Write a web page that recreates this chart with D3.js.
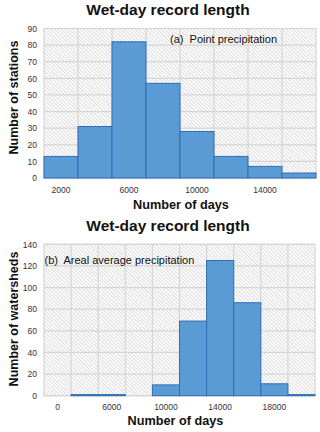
<!DOCTYPE html>
<html>
<head>
<meta charset="utf-8">
<script src="https://cdn.jsdelivr.net/npm/d3@7"></script>
<style>
  body { margin: 0; background: #fff; }
  text { font-family: "Liberation Sans", Arial, sans-serif; }
</style>
</head>
<body>
<script>
// Data
const binsA = ["2000", "4000", "6000", "8000", "10000", "12000", "14000", "16000"];
const countsA = [13, 31, 82, 57, 28, 13, 7, 3];
const xTicksA = ["2000", "6000", "10000", "14000"];
const yTicksA = [0, 10, 20, 30, 40, 50, 60, 70, 80, 90];

const binsB = ["0", "4000", "6000", "8000", "10000", "12000", "14000", "16000", "18000", "20000"];
const countsB = [0, 1, 1, 0, 10, 69, 125, 86, 11, 1];
const xTicksB = ["0", "6000", "10000", "14000", "18000"];
const yTicksB = [0, 20, 40, 60, 80, 100, 120, 140];

const width = 320, height = 432;

const svg = d3.select("body").append("svg")
    .attr("width", width)
    .attr("height", height);

// diagonal hatch used as the plot background
svg.append("defs").append("pattern")
    .attr("id", "hatch")
    .attr("patternUnits", "userSpaceOnUse")
    .attr("width", 2.6)
    .attr("height", 2.6)
    .attr("patternTransform", "rotate(45)")
  .append("line")
    .attr("x1", 0).attr("y1", 0.5)
    .attr("x2", 2.6).attr("y2", 0.5)
    .attr("stroke", "#c4c4c4")
    .attr("stroke-width", 0.6);

function panel(opt) {
  const g = svg.append("g");

  const x = d3.scaleBand()
      .domain(opt.bins)
      .range([opt.left, opt.right])
      .paddingInner(0)
      .paddingOuter(0);

  const y = d3.scaleLinear()
      .domain([0, opt.yMax])
      .range([opt.bottom, opt.top]);

  // background + hatch
  g.append("rect")
      .attr("x", opt.left).attr("y", opt.top)
      .attr("width", opt.right - opt.left)
      .attr("height", opt.bottom - opt.top)
      .attr("fill", "url(#hatch)");

  // gridlines
  g.append("g")
    .selectAll("line.h")
    .data(opt.yTicks)
    .join("line")
      .attr("x1", opt.left).attr("x2", opt.right)
      .attr("y1", d => y(d)).attr("y2", d => y(d))
      .attr("stroke", "#d6d6d6")
      .attr("stroke-width", 1.2);

  g.append("g")
    .selectAll("line.v")
    .data(opt.bins.slice(1))
    .join("line")
      .attr("x1", d => x(d)).attr("x2", d => x(d))
      .attr("y1", opt.top).attr("y2", opt.bottom)
      .attr("stroke", "#d6d6d6")
      .attr("stroke-width", 1.2);

  g.append("rect")
      .attr("x", opt.left).attr("y", opt.top)
      .attr("width", opt.right - opt.left)
      .attr("height", opt.bottom - opt.top)
      .attr("fill", "none")
      .attr("stroke", "#d6d6d6")
      .attr("stroke-width", 1.2);

  // bars
  g.append("g")
    .selectAll("rect")
    .data(opt.bins.map((b, i) => ({ bin: b, value: opt.counts[i] })))
    .join("rect")
      .attr("x", d => x(d.bin))
      .attr("y", d => y(d.value))
      .attr("width", x.bandwidth())
      .attr("height", d => y(0) - y(d.value))
      .attr("fill", "#5b9bd5")
      .attr("stroke", "#2e6db4")
      .attr("stroke-width", 1);

  // x axis
  const xAxis = g.append("g")
      .attr("transform", `translate(0,${opt.bottom})`)
      .call(d3.axisBottom(x).tickValues(opt.xTicks).tickSize(0).tickPadding(opt.xPad));
  xAxis.select(".domain").remove();
  xAxis.selectAll("text")
      .attr("font-size", 8.5)
      .attr("fill", "#333");

  // y axis
  const yAxis = g.append("g")
      .attr("transform", `translate(${opt.left},0)`)
      .call(d3.axisLeft(y).tickValues(opt.yTicks).tickSize(0).tickPadding(7));
  yAxis.select(".domain").remove();
  yAxis.selectAll("text")
      .attr("font-size", 8.5)
      .attr("fill", "#333");

  // titles
  g.append("text")
      .attr("x", 168).attr("y", opt.titleY)
      .attr("text-anchor", "middle")
      .attr("font-size", 15.5)
      .attr("font-weight", "bold")
      .attr("fill", "#111")
      .text("Wet-day record length");

  g.append("text")
      .attr("x", opt.xTitleX).attr("y", opt.xTitleY)
      .attr("text-anchor", "middle")
      .attr("font-size", 12.7)
      .attr("font-weight", "bold")
      .attr("fill", "#111")
      .text("Number of days");

  g.append("text")
      .attr("transform", `translate(18,${opt.yTitleY}) rotate(-90)`)
      .attr("text-anchor", "middle")
      .attr("font-size", 12.5)
      .attr("font-weight", "bold")
      .attr("fill", "#111")
      .text(opt.yTitle);

  g.append("text")
      .attr("x", opt.noteX).attr("y", opt.noteY)
      .attr("font-size", 11)
      .attr("fill", "#111")
      .attr("xml:space", "preserve")
      .text(opt.note);
}

panel({
  bins: binsA, counts: countsA, xTicks: xTicksA, yTicks: yTicksA, yMax: 90,
  left: 44, right: 316, top: 28.5, bottom: 178, xPad: 9,
  titleY: 15, xTitleX: 181, xTitleY: 208.5, yTitleY: 97.5,
  yTitle: "Number of stations",
  note: "(a)  Point precipitation", noteX: 170, noteY: 43
});

panel({
  bins: binsB, counts: countsB, xTicks: xTicksB, yTicks: yTicksB, yMax: 140,
  left: 44, right: 315, top: 244.3, bottom: 395.7, xPad: 8,
  titleY: 231, xTitleX: 175.5, xTitleY: 424.5, yTitleY: 319,
  yTitle: "Number of watersheds",
  note: "(b)  Areal average precipitation", noteX: 44.5, noteY: 264
});
</script>
</body>
</html>
